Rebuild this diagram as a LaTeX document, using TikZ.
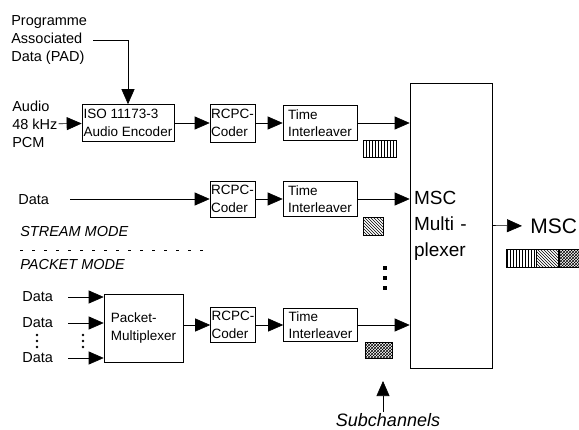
\documentclass[tikz,border=0pt]{standalone}
\usepackage{fontspec}
\setmainfont{Liberation Sans}
\usepackage{tikz}
\usetikzlibrary{arrows.meta,patterns,positioning}
\newcommand{\lbsize}{\fontsize{14.5}{18}\selectfont}
\newcommand{\bxsize}{\fontsize{13.5}{17.5}\selectfont}
\newcommand{\muxsize}{\fontsize{19}{26}\selectfont}

\begin{document}
\begin{tikzpicture}[x=1pt,y=-1pt,>={Triangle[length=15pt,width=13pt]},line width=0.6pt,
  blk/.style={draw,align=left,inner sep=1pt,font=\bxsize},
  lbl/.style={align=left,inner sep=1pt,font=\lbsize},
  mode/.style={anchor=west,inner sep=0pt,font=\lbsize\itshape},
  rcpc/.style={blk,minimum width=45pt,minimum height=38pt},
  til/.style={blk,minimum width=74pt,minimum height=35pt},
  chan/.style={draw,thin,inner sep=0pt}]

	\useasboundingbox (0,0) rectangle (579,429);

	% The audio row
	\node [lbl,anchor=west] at (10,40) (pad) {Programme\\Associated\\Data (PAD)};
	\node [lbl,anchor=west] at (11,124) (aud) {Audio\\48 kHz\\PCM};
	\node [blk,minimum width=92pt,minimum height=37pt] at (128,123) (iso) {ISO 11173-3\\Audio Encoder};
	\node [rcpc] at (232.5,123) (rcpc1) {RCPC-\\Coder};
	\node [til] at (320,123) (ti1) {Time\\Interleaver};
	\node [chan,pattern=vertical lines,minimum width=33pt,minimum height=17pt] at (379.5,148.5) (sub1) {};

	% The stream row
	\node [lbl,anchor=west] at (17,200) (dat2) {Data};
	\node [rcpc,minimum height=36pt] at (232.5,199) (rcpc2) {RCPC-\\Coder};
	\node [til] at (320,199) (ti2) {Time\\Interleaver};
	\node [chan,pattern=north west lines,minimum width=20pt,minimum height=18pt] at (373,226) (sub2) {};
	\node [mode] at (20,232) (smode) {STREAM MODE};
	\draw [thin,dash pattern=on 3pt off 9pt] (20,250) -- (210,250);
	\node [mode] at (20,265) (pmode) {PACKET MODE};

	% The packet row
	\node [lbl,anchor=west] at (21,297) (dat3) {Data};
	\node [lbl,anchor=west] at (21,323) (dat4) {Data};
	\node [lbl,anchor=west] at (21,358) (dat5) {Data};
	\node [blk,minimum width=79pt,minimum height=68pt] at (143.5,328) (pm) {Packet-\\Multiplexer};
	\node [rcpc,minimum height=35pt] at (233,325) (rcpc3) {RCPC-\\Coder};
	\node [til,minimum height=33pt] at (320.5,325) (ti3) {Time\\Interleaver};
	\node [chan,pattern=crosshatch,minimum width=27pt,minimum height=16pt] at (378.5,350) (sub3) {};
	\foreach \x in {37,83}
		\foreach \y in {335,341,347}
			\fill (\x,\y) circle (1.4pt);
	\foreach \y in {268,278,288}
		\fill (383,\y-2) rectangle ++(4,4);

	% Multiplexer and output
	\node [draw,align=left,font=\muxsize,inner sep=4pt,text width=74pt,minimum width=82pt,minimum height=285pt] at (451,225.5) (mux) {MSC\\Multi -\\plexer};
	\node [anchor=west,inner sep=0pt,font=\fontsize{21}{24}\selectfont] at (530,226) (msc) {MSC};
	\node [chan,pattern=vertical lines,minimum width=30pt,minimum height=18pt,anchor=west] at (506,258) (frm1) {};
	\node [chan,pattern=north west lines,minimum width=22pt,minimum height=18pt,right=0pt of frm1] (frm2) {};
	\node [chan,pattern=crosshatch,minimum width=22pt,minimum height=18pt,right=0pt of frm2] (frm3) {};
	\node [inner sep=1pt,font=\fontsize{18}{22}\selectfont\itshape] at (388,420) (subch) {Subchannels};
	\coordinate (subtip) at (383,381);

	% Edges
	\draw [->,shorten <=5pt] (pad.east) -| (iso.north);
	\path[->]
	(aud) edge (iso)
	(iso) edge (rcpc1)
	(rcpc1) edge (ti1)
	(rcpc2) edge (ti2)
	(rcpc3) edge (ti3);
	\draw [->,shorten >=8pt] (mux.east) -- (msc.west);
	\draw [->] (ti1.east) -- (ti1.east -| mux.west);
	\draw [->] (ti2.east) -- (ti2.east -| mux.west);
	\draw [->] (ti3.east) -- (ti3.east -| mux.west);
	\draw [->,shorten <=20pt] (dat2.east |- rcpc2) -- (rcpc2.west);
	\draw [->,shorten <=14pt] (dat3.east) -- (dat3.east -| pm.west);
	\draw [->,shorten <=14pt] (dat4.east) -- (dat4.east -| pm.west);
	\draw [->,shorten <=14pt] (dat5.east) -- (dat5.east -| pm.west);
	\draw [->] (pm.east |- rcpc3.west) -- (rcpc3.west);
	\draw [->] (subch.north -| subtip) -- (subtip);

\end{tikzpicture}
\end{document}
